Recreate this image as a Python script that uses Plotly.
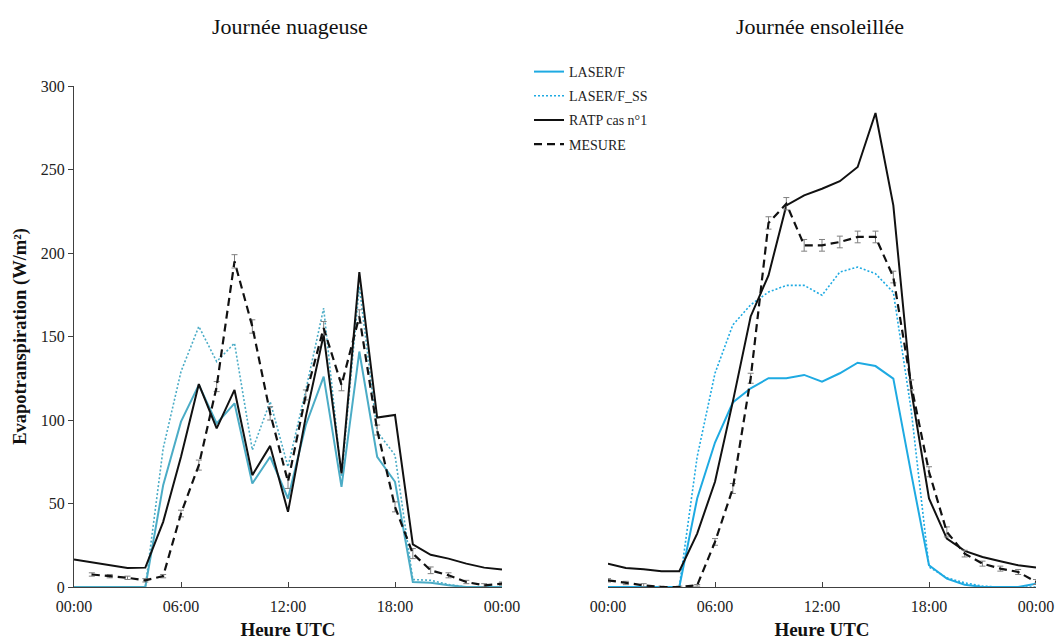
import plotly.graph_objects as go

hours = list(range(25))
tick_vals = [0, 6, 12, 18, 24]
tick_text = ["00:00", "06:00", "12:00", "18:00", "00:00"]

# Journée nuageuse
cloudy_laser = [0, 0, 0, 0, 0, 61, 99, 121, 98, 110, 62, 78, 53, 97, 126, 60, 141, 78, 63, 3, 2.5, 1, 0, 0, 0]
cloudy_laser_ss = [0, 0, 0, 0, 0, 83, 129, 156, 135, 146, 82, 111, 72, 118, 167, 66, 180, 93, 79, 4.5, 4, 1.5, 0, 0, 0]
cloudy_ratp = [16.5, 14.7, 13, 11.4, 11.6, 39, 78, 121.5, 95, 118, 67, 84.5, 45, 102, 151, 68, 188.5, 101.5, 103, 25.5, 19.3, 17, 14, 11.6, 10.4]
cloudy_mesure = [None, 7.5, 6.5, 5.5, 4, 6.5, 44, 73, 120, 195, 156, 104, 63, 115, 155, 121, 162, 94, 48, 20, 10, 7, 3, 1, 2]
cloudy_err = [0, 1, 1, 1, 1, 1, 2, 3, 3, 4, 4, 4, 4, 3, 4, 3.5, 4, 3, 3, 3, 2, 1.5, 1, 1, 1]

# Journée ensoleillée
sunny_laser = [0, 0, 0, 0, 0, 53, 86.5, 110.5, 119, 125, 125, 127, 123, 128, 134.3, 132.3, 124.8, 68, 13, 5, 1.4, 0, 0, 0, 2]
sunny_laser_ss = [0, 0, 0, 0, 0, 78, 128, 157, 169, 176.6, 180.6, 180.6, 174.7, 188.6, 191.6, 187.6, 176.5, 106, 12, 5.5, 2.5, 0.5, 0, 0, 0]
sunny_ratp = [14, 11.4, 10.6, 9.4, 9.4, 32, 63, 111, 162, 186.6, 228.5, 234.5, 238.5, 243, 251.5, 283.8, 228.5, 118, 53, 29, 21.6, 18, 15.4, 13, 11.6]
sunny_mesure = [4, 2.4, 1, 0, 0, 1, 27, 59, 125, 218, 229.5, 204.6, 204.6, 206.6, 209.6, 209.6, 185.6, 121, 69, 33, 20, 14, 11, 9, 3]
sunny_err = [1, 1, 1, 0.5, 0.5, 0.5, 2, 3, 3, 3.7, 3.7, 3.5, 3.5, 3.5, 3.5, 3.5, 3.5, 3, 3, 3, 2, 1.5, 1.5, 1.5, 1.5]

FONT = "Liberation Serif, Times New Roman, serif"
CYAN_L = "#4BACC6"
CYAN_R = "#1EAAE2"
ERR = dict(type="data", color="#808080", thickness=1, width=3)

fig = go.Figure()

def add_panel(xa, ya, laser, laser_ss, ratp, mesure, err, cyan, show):
    fig.add_trace(go.Scatter(x=hours, y=laser, mode="lines", name="LASER/F",
                             line=dict(color=cyan, width=2), xaxis=xa, yaxis=ya,
                             showlegend=show, legendgroup="a"))
    fig.add_trace(go.Scatter(x=hours, y=laser_ss, mode="lines", name="LASER/F_SS",
                             line=dict(color=cyan, width=1.6, dash="2px,2px"), xaxis=xa, yaxis=ya,
                             showlegend=show, legendgroup="b"))
    fig.add_trace(go.Scatter(x=hours, y=ratp, mode="lines", name="RATP cas n°1",
                             line=dict(color="#111111", width=2), xaxis=xa, yaxis=ya,
                             showlegend=show, legendgroup="c"))
    fig.add_trace(go.Scatter(x=hours, y=mesure, mode="lines", name="MESURE",
                             line=dict(color="#111111", width=2.2, dash="8px,5px"),
                             error_y=dict(array=err, **ERR), xaxis=xa, yaxis=ya,
                             showlegend=show, legendgroup="d"))

add_panel("x", "y", cloudy_laser, cloudy_laser_ss, cloudy_ratp, cloudy_mesure, cloudy_err, CYAN_L, False)
add_panel("x2", "y2", sunny_laser, sunny_laser_ss, sunny_ratp, sunny_mesure, sunny_err, CYAN_R, True)

W, H = 1055, 640
dom_l = [74 / W, 502 / W]
dom_r = [608 / W, 1036 / W]
dom_y = [1 - 587 / H, 1 - 86 / H]

xcommon = dict(range=[0, 24], tickvals=tick_vals, ticktext=tick_text, showgrid=False,
               zeroline=False, showline=True, linecolor="#404040", linewidth=1,
               ticks="inside", ticklen=5, tickcolor="#404040", automargin=False,
               ticklabelstandoff=5,
               tickfont=dict(family=FONT, size=16, color="#222"),
               title=dict(text="<b>Heure UTC</b>", font=dict(family=FONT, size=19, color="#111"), standoff=8))

fig.update_layout(
    width=W, height=H,
    margin=dict(l=0, r=0, t=0, b=0, autoexpand=False),
    paper_bgcolor="white", plot_bgcolor="white",
    font=dict(family=FONT, color="#222"),
    xaxis=dict(domain=dom_l, anchor="y", **xcommon),
    xaxis2=dict(domain=dom_r, anchor="y2", **xcommon),
    yaxis=dict(domain=dom_y, anchor="x", range=[0, 300], tickvals=[0, 50, 100, 150, 200, 250, 300],
               showgrid=False, zeroline=False, showline=True, linecolor="#404040", linewidth=1,
               ticks="outside", ticklen=5, tickcolor="#404040", automargin=False,
               tickfont=dict(family=FONT, size=16, color="#222"),
               title=dict(text="<b>Evapotranspiration (W/m²)</b>", font=dict(family=FONT, size=18.5, color="#111"), standoff=9)),
    yaxis2=dict(domain=dom_y, anchor="x2", range=[0, 300], showgrid=False, zeroline=False,
                showline=False, showticklabels=False, ticks="", automargin=False),
    legend=dict(x=529 / W, y=1 - 56 / H, xanchor="left", yanchor="top",
                font=dict(family=FONT, size=14, color="#222"), bgcolor="rgba(0,0,0,0)",
                tracegroupgap=3, traceorder="grouped"),
    annotations=[
        dict(text="Journée nuageuse", x=290 / W, y=1 - 26 / H, xref="paper", yref="paper",
             xanchor="center", yanchor="middle",
             showarrow=False, font=dict(family=FONT, size=22, color="#111")),
        dict(text="Journée ensoleillée", x=820 / W, y=1 - 26 / H, xref="paper", yref="paper",
             xanchor="center", yanchor="middle",
             showarrow=False, font=dict(family=FONT, size=22, color="#111")),
    ],
)

fig.write_html("out.html", post_script="document.body.style.margin='0';",
               config={"displayModeBar": False})
